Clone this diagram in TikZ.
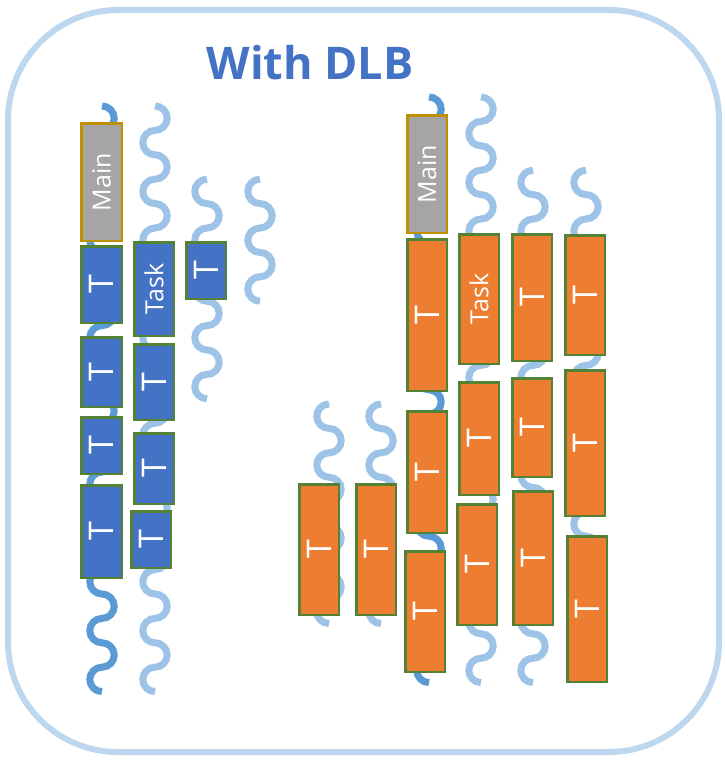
\documentclass[tikz,border=0pt]{standalone}
\usepackage{fontspec}
\setmainfont{Open Sans}
\usepackage{graphicx}

\definecolor{frameblue}{HTML}{BDD7EE}
\definecolor{titleblue}{HTML}{4472C4}
\definecolor{boxblue}{HTML}{4472C4}
\definecolor{boxorange}{HTML}{ED7D31}
\definecolor{taskedge}{HTML}{548235}
\definecolor{maingray}{HTML}{A5A5A5}
\definecolor{mainedge}{HTML}{BF9000}
\definecolor{threaddark}{HTML}{5B9BD5}
\definecolor{threadlight}{HTML}{9DC3E6}

\tikzset{
  taskbase/.style={draw=taskedge, line width=2.5pt, inner sep=0pt, text=white},
  bluetask/.style={taskbase, fill=boxblue},
  orangetask/.style={taskbase, fill=boxorange},
  maintask/.style={taskbase, draw=mainedge, fill=maingray},
  biglabel/.style={font=\fontsize{34}{40}\selectfont},
  smalllabel/.style={font=\fontsize{25}{30}\selectfont},
  darkthread/.style={draw=threaddark, line width=7pt},
  lightthread/.style={draw=threadlight, line width=7pt},
}

% task box given by its outer edges: style, name, left, top, right, bottom, label
\newcommand\taskbox[7]{%
  \node[#1, minimum width={(#5-#3)*1pt-2.5pt}, minimum height={(#6-#4)*1pt-2.5pt}]
    (#2) at ({(#3+#5)/2},{(#4+#6)/2}) {\rotatebox{90}{#7}};}

% wavy thread made of half circles: style, name, x centre, start y, number of halves, first bulge (1 right, -1 left)
\newcommand\threadwave[6]{%
  \draw[#1] (#3,#4) coordinate (#2)
    \foreach \k [evaluate=\k as \sa using {90-180*(#6)*(1-2*mod(\k+1,2))}] in {1,...,#5}
      { arc[start angle=\sa, end angle=90, radius=12.2] };}

\begin{document}
\begin{tikzpicture}[x=1pt, y=1pt, yscale=-1]
\useasboundingbox (0,0) rectangle (724,760);

% frame and title
\draw[frameblue, line width=6pt, rounded corners=110pt] (8,10) rectangle (719,752);
\node[anchor=base, text=titleblue, font=\fontsize{45}{52}\selectfont\bfseries] (title) at (310,80) {With DLB};

% threads, left group
\threadwave{darkthread}{wl1}{102}{106}{24}{1}
\threadwave{lightthread}{wl2}{155}{106}{24}{1}
\threadwave{lightthread}{wl3}{207}{179.2}{9}{-1}
\threadwave{lightthread}{wl4}{260}{179.2}{5}{-1}

% threads, right group
\threadwave{darkthread}{wr1}{429}{97}{24}{1}
\threadwave{lightthread}{wr2}{481}{97}{24}{1}
\threadwave{lightthread}{wr3}{533}{170.2}{21}{-1}
\threadwave{lightthread}{wr4}{586}{170.2}{20}{-1}
\threadwave{lightthread}{wra}{329}{404}{9}{-1}
\threadwave{lightthread}{wrb}{381}{404}{9}{-1}

% tasks, left group
\taskbox{maintask,smalllabel}{mainL}{80}{122}{123}{242}{Main}
\taskbox{bluetask,biglabel}{l1a}{80}{245}{123}{324}{T}
\taskbox{bluetask,biglabel}{l1b}{80}{336}{123}{408}{T}
\taskbox{bluetask,biglabel}{l1c}{80}{416}{123}{475}{T}
\taskbox{bluetask,biglabel}{l1d}{80}{484}{123}{579}{T}
\taskbox{bluetask,smalllabel}{l2a}{133}{241}{175}{337}{Task}
\taskbox{bluetask,biglabel}{l2b}{133}{343}{175}{421}{T}
\taskbox{bluetask,biglabel}{l2c}{133}{432}{175}{505}{T}
\taskbox{bluetask,biglabel}{l2d}{130}{510}{172}{569}{T}
\taskbox{bluetask,biglabel}{l3a}{185}{241}{227}{300}{T}

% tasks, right group
\taskbox{maintask,smalllabel}{mainR}{406}{114}{448}{234}{Main}
\taskbox{orangetask,biglabel}{r1a}{406}{238}{448}{392}{T}
\taskbox{orangetask,biglabel}{r1b}{406}{410}{448}{534}{T}
\taskbox{orangetask,biglabel}{r1c}{404}{550}{446}{673}{T}
\taskbox{orangetask,smalllabel}{r2a}{458}{233}{500}{365}{Task}
\taskbox{orangetask,biglabel}{r2b}{458}{381}{500}{496}{T}
\taskbox{orangetask,biglabel}{r2c}{456}{503}{498}{626}{T}
\taskbox{orangetask,biglabel}{r3a}{511}{233}{553}{362}{T}
\taskbox{orangetask,biglabel}{r3b}{511}{377}{553}{478}{T}
\taskbox{orangetask,biglabel}{r3c}{512}{490}{554}{626}{T}
\taskbox{orangetask,biglabel}{r4a}{564}{234}{606}{356}{T}
\taskbox{orangetask,biglabel}{r4b}{564}{369}{606}{517}{T}
\taskbox{orangetask,biglabel}{r4c}{566}{535}{608}{683}{T}
\taskbox{orangetask,biglabel}{rA}{298}{483}{340}{616}{T}
\taskbox{orangetask,biglabel}{rB}{355}{483}{397}{616}{T}
\end{tikzpicture}
\end{document}
